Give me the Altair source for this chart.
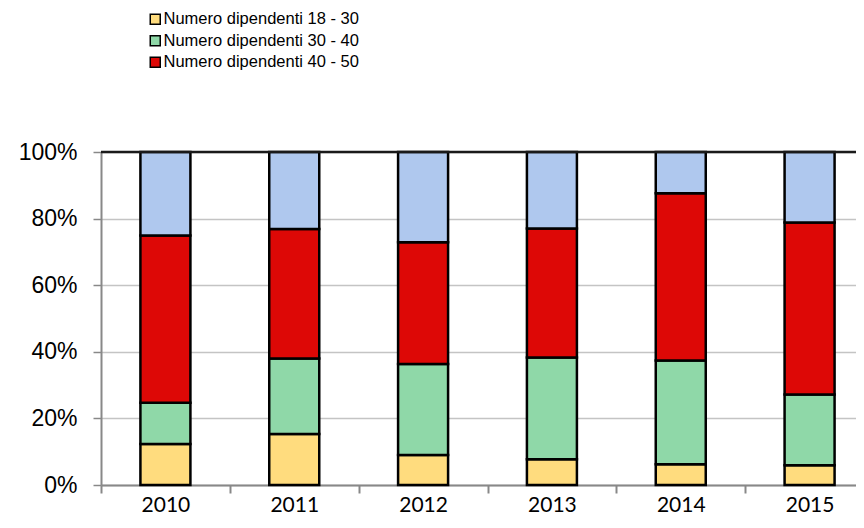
import altair as alt
import pandas as pd

years = ["2010", "2011", "2012", "2013", "2014", "2015"]
series = [
    "Numero dipendenti 18 - 30",
    "Numero dipendenti 30 - 40",
    "Numero dipendenti 40 - 50",
    "Numero dipendenti oltre 50",
]
colors = ["#FFDC7E", "#8FD8A8", "#DD0806", "#AFC8EE"]

s_18_30 = [12.3, 15.3, 9.0, 7.7, 6.2, 5.9]
s_30_40 = [12.4, 22.7, 27.3, 30.6, 31.2, 21.3]
s_40_50 = [50.2, 38.9, 36.6, 38.7, 50.2, 51.6]
s_50 = [25.1, 23.1, 27.1, 23.0, 12.4, 21.2]

rows = []
for i, y in enumerate(years):
    for k, vals in enumerate([s_18_30, s_30_40, s_40_50, s_50]):
        rows.append({"anno": y, "serie": series[k], "ordine": k, "valore": vals[i]})
df = pd.DataFrame(rows)

bars = alt.Chart(df).mark_bar(size=50, stroke="black", strokeWidth=2.5).encode(
    x=alt.X("anno:N", title=None, sort=years,
            scale=alt.Scale(paddingInner=0, paddingOuter=0, range=[0, 773]),
            axis=alt.Axis(labelAngle=0, tickBand="extent", labelFont="Lato",
                          labelFontSize=21, labelColor="black", labelPadding=1,
                          labelBaseline="top",
                          tickSize=8, tickColor="#888888", tickWidth=2,
                          domainColor="#888888", domainWidth=2, grid=False)),
    y=alt.Y("valore:Q", stack="normalize", title=None,
            scale=alt.Scale(domain=[0, 1]),
            axis=alt.Axis(format=".0%", values=[0, 0.2, 0.4, 0.6, 0.8, 1.0],
                          labelFont="Liberation Sans", labelFontSize=23,
                          labelColor="black", labelPadding=16, tickSize=8,
                          tickColor="#888888", tickWidth=1.5,
                          domainColor="#888888", domainWidth=2,
                          gridColor="#C4C4C4", gridWidth=1.5)),
    color=alt.Color("serie:N", scale=alt.Scale(domain=series, range=colors),
                    legend=alt.Legend(title=None, values=series[:3], orient="none",
                                      legendX=46, legendY=-141,
                                      symbolType="square", symbolSize=100,
                                      symbolStrokeColor="black", symbolStrokeWidth=1.5,
                                      symbolOpacity=1, labelLimit=400,
                                      labelFont="Liberation Sans", labelFontSize=16.5,
                                      labelColor="black", labelOffset=0,
                                      rowPadding=4.5)),
    order=alt.Order("ordine:Q"),
)

top_line = alt.Chart(pd.DataFrame({"v": [1.0]})).mark_rule(
    color="#1a1a1a", strokeWidth=2.5).encode(y=alt.Y("v:Q"))

chart = alt.layer(bars, top_line).properties(
    width=755, height=333,
    padding={"left": 93, "top": 144, "right": 0, "bottom": 30},
    autosize="none",
).configure_view(stroke=None)

chart.save("out.html", embed_options={"renderer": "svg", "actions": False})
